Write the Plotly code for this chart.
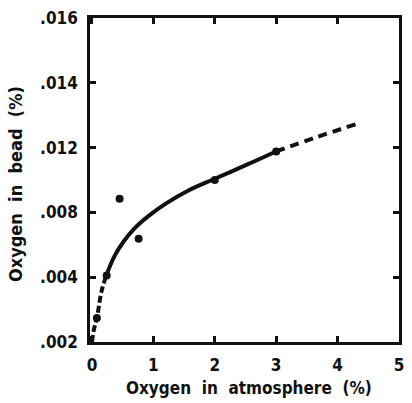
import numpy as np
import plotly.graph_objects as go

# Measured points: oxygen in atmosphere (%) vs oxygen in bead (%)
atm_pts = [0.08, 0.24, 0.45, 0.76, 2.0, 3.0]
bead_pts = [0.00274, 0.0041, 0.00885, 0.00637, 0.0100, 0.01176]

# Fitted curve
curve_atm = [0.0, 0.03, 0.08, 0.16, 0.256, 0.369, 0.513, 0.689, 0.929, 1.202,
             1.571, 1.971, 2.532, 2.997, 3.654, 4.295]
curve_bead = [0.0020, 0.00237, 0.00274, 0.0036, 0.00434, 0.00532, 0.00619, 0.00700,
              0.00780, 0.00854, 0.00935, 0.01003, 0.01096, 0.01176, 0.01232, 0.01272]

# The ordinate is printed with evenly spaced ticks carrying these values
y_tick_vals = [0.002, 0.004, 0.008, 0.012, 0.014, 0.016]
y_tick_text = [".002", ".004", ".008", ".012", ".014", ".016"]
x_tick_vals = [0, 1, 2, 3, 4, 5]
x_tick_text = ["0", "1", "2", "3", "4", "5"]

tick_pos = np.arange(len(y_tick_vals), dtype=float)


def ypos(v):
    return np.interp(np.asarray(v, dtype=float), y_tick_vals, tick_pos)


cx = np.array(curve_atm)
cy = ypos(curve_bead)

FONT = "DejaVu Sans Condensed, Liberation Sans Narrow, DejaVu Sans, sans-serif"
INK = "#111111"

fig = go.Figure()

# short dashes near the origin, solid through the data, long dashes beyond
segments = [
    (cx <= 0.256, "7px,3px"),
    ((cx >= 0.256) & (cx <= 2.997), "solid"),
    (cx >= 2.997, "9px,6px"),
]
for mask, dash in segments:
    fig.add_trace(go.Scatter(
        x=cx[mask], y=cy[mask], mode="lines",
        line=dict(color=INK, width=4, dash=dash, shape="spline"),
        hoverinfo="skip", showlegend=False,
    ))

fig.add_trace(go.Scatter(
    x=atm_pts, y=ypos(bead_pts), mode="markers",
    marker=dict(color=INK, size=8),
    showlegend=False,
))

axis_common = dict(
    showgrid=False, zeroline=False,
    showline=True, linecolor=INK, linewidth=2.5, mirror="ticks",
    ticks="inside", ticklen=6, tickwidth=2.5, tickcolor=INK,
    tickfont=dict(family=FONT, size=17, color=INK, weight="bold"),
)

fig.update_layout(
    width=412, height=403,
    margin=dict(l=90, r=8, t=18, b=61),
    paper_bgcolor="white", plot_bgcolor="white",
    xaxis=dict(range=[-0.032, 5.0], tickvals=x_tick_vals, ticktext=x_tick_text,
               ticklabelstandoff=6, **axis_common),
    yaxis=dict(range=[0, 5], tickvals=list(tick_pos), ticktext=y_tick_text,
               ticklabelstandoff=6, **axis_common),
    annotations=[
        dict(text="Oxygen  in  atmosphere  (%)", xref="paper", yref="paper",
             x=0.516, y=-0.142, showarrow=False, xanchor="center", yanchor="middle",
             font=dict(family=FONT, size=17, color=INK, weight="bold")),
        dict(text="Oxygen  in  bead  (%)", xref="paper", yref="paper",
             x=-0.239, y=0.488, showarrow=False, xanchor="center", yanchor="middle",
             textangle=-90,
             font=dict(family=FONT, size=18, color=INK, weight="bold")),
    ],
)

fig.write_html("out.html")
